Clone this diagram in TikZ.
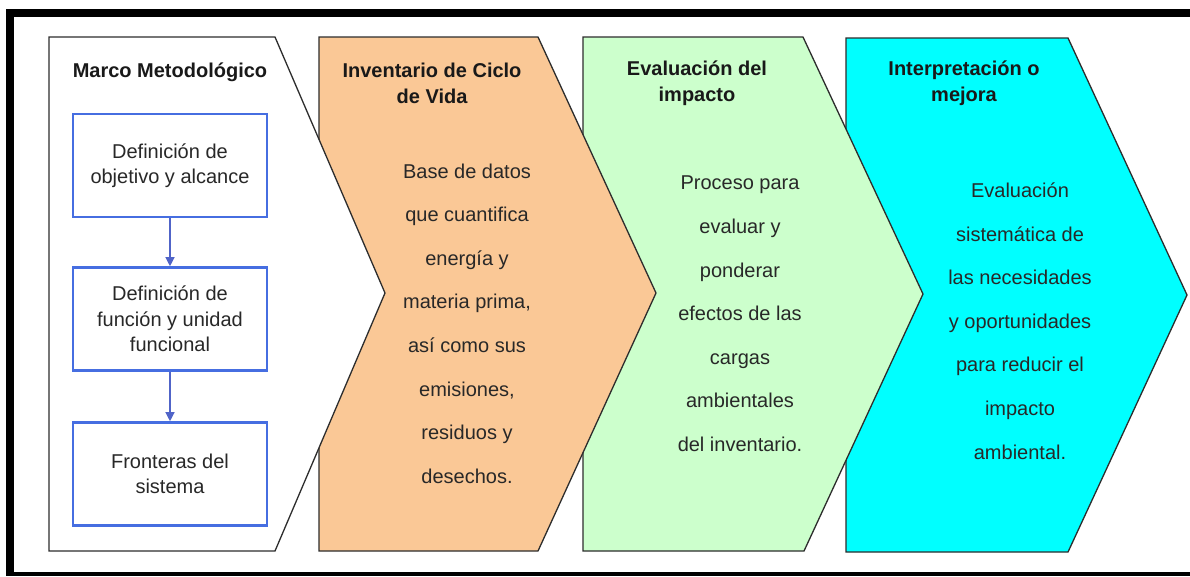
\documentclass[tikz,border=0pt]{standalone}
\usepackage{fontspec}
\setmainfont{Liberation Sans}
\usetikzlibrary{arrows.meta}
\definecolor{orangefill}{RGB}{250,200,150}
\definecolor{greenfill}{RGB}{204,255,204}
\definecolor{cyanfill}{RGB}{0,255,255}
\definecolor{edgegray}{RGB}{45,45,45}
\definecolor{boxblue}{RGB}{70,110,225}
\definecolor{arrowblue}{RGB}{80,100,200}
\definecolor{textgray}{RGB}{40,40,40}
\tikzset{
  stage/.style={draw=edgegray, line width=1.3pt, line join=miter},
  bluebox/.style={draw=boxblue, line width=2.6pt, fill=white, minimum width=194pt, minimum height=103pt, inner sep=0pt, align=center, font=\fontsize{20}{25.5}\selectfont, text=textgray},
  titletext/.style={align=center, font=\fontsize{20}{26}\selectfont\bfseries, text=black!90, inner sep=0pt},
  bodytext/.style={align=center, font=\fontsize{20}{43.6}\selectfont, text=textgray, inner sep=0pt},
  flowarrow/.style={draw=arrowblue, line width=1.2pt, -{Triangle[length=9pt,width=9pt]}}
}
\begin{document}
\begin{tikzpicture}[x=1pt,y=-1pt]
\useasboundingbox (0,0) rectangle (1190,576);
\fill[white] (0,0) rectangle (1190,576);
% frame
\fill[black] (6,9) rectangle (1190,17);
\fill[black] (6,9) rectangle (14,576);
\fill[black] (6,572) rectangle (1190,576);
% stages (right to left so each tip overlays the next)
\draw[stage, fill=cyanfill] (846,38) -- (1068,38) -- (1187,295) -- (1068,552) -- (846,552) -- cycle;
\draw[stage, fill=greenfill] (583,37) -- (803,37) -- (923,294) -- (804,551) -- (583,551) -- cycle;
\draw[stage, fill=orangefill] (319,37) -- (538,37) -- (656,293) -- (538,551) -- (319,551) -- cycle;
\draw[stage, fill=white] (49,37) -- (275,37) -- (385,293) -- (275,551) -- (49,551) -- cycle;
% titles
\node[titletext] (t1) at (170,72) {Marco Metodológico};
\node[titletext] (t2) at (432,83) {Inventario de Ciclo\\de Vida};
\node[titletext] (t3) at (697,83) {Evaluación del\\impacto};
\node[titletext] (t4) at (964,83) {Interpretación o\\mejora};
% boxes
\node[bluebox] (b1) at (170,165.5) {Definición de\\objetivo y alcance};
\node[bluebox] (b2) at (170,319) {Definición de\\función y unidad\\funcional};
\node[bluebox] (b3) at (170,474) {Fronteras del\\sistema};
\draw[flowarrow] (b1) -- (b2);
\draw[flowarrow] (b2) -- (b3);
% body texts
\node[bodytext] (d2) at (467,323.5) {Base de datos\\que cuantifica\\energía y\\materia prima,\\así como sus\\emisiones,\\residuos y\\desechos.};
\node[bodytext] (d3) at (740,314) {Proceso para\\evaluar y\\ponderar\\efectos de las\\cargas\\ambientales\\del inventario.};
\node[bodytext] (d4) at (1020,321) {Evaluación\\sistemática de\\las necesidades\\y oportunidades\\para reducir el\\impacto\\ambiental.};
\end{tikzpicture}
\end{document}
